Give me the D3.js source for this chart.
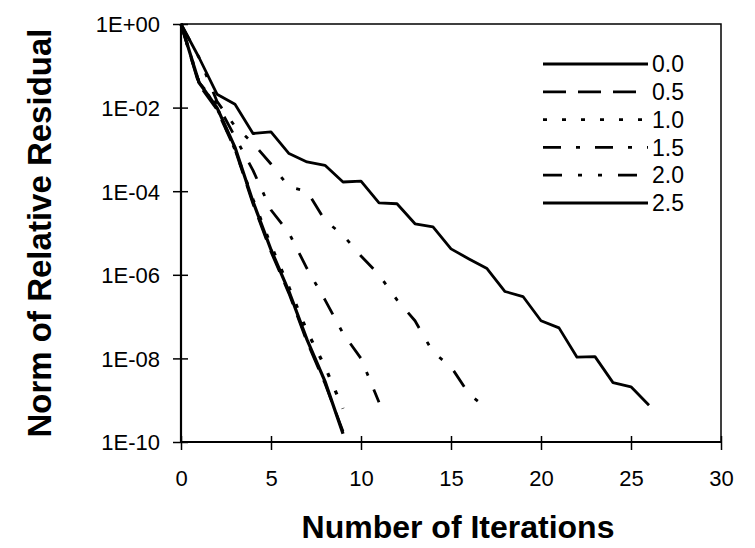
<!DOCTYPE html>
<html>
<head>
<meta charset="utf-8">
<script src="https://cdn.jsdelivr.net/npm/d3@7"></script>
<style>
  body { margin: 0; background: #fff; }
  svg { display: block; font-family: 'Liberation Sans', Arial, sans-serif; }
</style>
</head>
<body>
<svg id="chart" width="755" height="548"></svg>
<script>
// iterations and residual norms
const seriesNames = ['0.0', '0.5', '1.0', '1.5', '2.0', '2.5'];

const res00 = [1, 1.58e-1, 2.09e-2, 1.20e-2, 2.40e-3, 2.63e-3, 7.94e-4, 5.01e-4, 4.17e-4, 1.66e-4,
    1.74e-4, 5.25e-5, 5.01e-5, 1.66e-5, 1.41e-5, 4.17e-6, 2.40e-6, 1.41e-6, 3.98e-7, 3.02e-7,
    7.94e-8, 5.37e-8, 1.07e-8, 1.10e-8, 2.63e-9, 2.09e-9, 7.59e-10];
const res05 = [1, 3.55e-2, 8.91e-3, 1.0e-3, 5.01e-5, 3.55e-6, 3.55e-7, 2.51e-8, 2.51e-9, 1.78e-10];
const res10 = [1, 3.98e-2, 1.0e-2, 1.0e-3, 6.31e-5, 5.01e-6, 5.01e-7, 4.47e-8, 6.31e-9, 6.31e-10];
const res15 = [1, 3.98e-2, 1.26e-2, 2.0e-3, 3.16e-4, 3.55e-5, 1.0e-5, 1.41e-6, 2.51e-7, 3.98e-8,
    1.0e-8, 8.91e-10];
const res20 = [1, 1.58e-1, 1.41e-2, 3.55e-3, 1.41e-3, 4.47e-4, 1.26e-4, 1.0e-4, 2.0e-5, 8.91e-6,
    2.82e-6, 1.0e-6, 2.51e-7, 7.94e-8, 1.41e-8, 6.31e-9, 1.41e-9, 6.31e-10];
const res25 = [1, 3.98e-2, 1.0e-2, 1.12e-3, 5.62e-5, 3.98e-6, 3.98e-7, 2.82e-8, 2.82e-9, 1.58e-10];

const xTicks = [0, 5, 10, 15, 20, 25, 30];
const yTicks = [1, 1e-2, 1e-4, 1e-6, 1e-8, 1e-10];

const svg = d3.select('#chart');
const margin = { top: 24, right: 34, bottom: 106, left: 181 };
const width = +svg.attr('width');
const height = +svg.attr('height');

const x = d3.scaleLinear()
    .domain([0, 30])
    .range([margin.left, width - margin.right]);

const y = d3.scaleLog()
    .domain([1e-10, 1])
    .range([height - margin.bottom, margin.top]);

const fmt = v => {
    const e = Math.round(Math.log10(v));
    return '1E' + (e < 0 ? '-' : '+') + String(Math.abs(e)).padStart(2, '0');
};

const styles = {
    '0.0': { dash: null, w: 2.8 },
    '0.5': { dash: '23,12', w: 2.8 },
    '1.0': { dash: '4,15', w: 3.2 },
    '1.5': { dash: '18,15,4,15', w: 2.8 },
    '2.0': { dash: '19,16,4,16,4,16', w: 2.8 },
    '2.5': { dash: null, w: 3.2 }
};

const series = [res00, res05, res10, res15, res20, res25].map((vals, i) => ({
    name: seriesNames[i],
    points: vals.map((v, k) => [k, v])
}));

// axes
const yAxis = svg.append('g')
    .attr('transform', `translate(${margin.left},0)`)
    .call(d3.axisLeft(y).tickValues(yTicks).tickFormat(fmt).tickSize(8).tickPadding(13));
yAxis.selectAll('.tick line').attr('x1', 7).attr('stroke-width', 1.5);
yAxis.select('.domain').remove();
yAxis.selectAll('text')
    .attr('font-size', 22)
    .attr('font-family', 'Liberation Sans, Arial, sans-serif')
    .attr('dy', '0.36em');

const xAxis = svg.append('g')
    .attr('transform', `translate(0,${height - margin.bottom})`)
    .call(d3.axisBottom(x).tickValues(xTicks).tickSize(8).tickPadding(20));
xAxis.selectAll('.tick line').attr('y1', -6).attr('stroke-width', 1.5);
xAxis.select('.domain').remove();
xAxis.selectAll('text')
    .attr('font-size', 22)
    .attr('font-family', 'Liberation Sans, Arial, sans-serif');

// frame
svg.append('rect')
    .attr('x', x(0))
    .attr('y', y(1))
    .attr('width', x(30) - x(0))
    .attr('height', y(1e-10) - y(1))
    .attr('fill', 'none')
    .attr('stroke', '#000')
    .attr('stroke-width', 1.5);
svg.append('path')
    .attr('d', `M${x(0)},${y(1)}V${y(1e-10)}H${x(30)}`)
    .attr('fill', 'none')
    .attr('stroke', '#000')
    .attr('stroke-width', 2.2);

const line = d3.line()
    .x(d => x(d[0]))
    .y(d => y(d[1]));

svg.append('g')
    .selectAll('path')
    .data(series)
    .enter().append('path')
    .attr('d', d => line(d.points))
    .attr('fill', 'none')
    .attr('stroke', '#000')
    .attr('stroke-width', d => styles[d.name].w)
    .attr('stroke-dasharray', d => styles[d.name].dash)
    .attr('stroke-linejoin', 'round');

// legend
const legend = svg.append('g')
    .attr('transform', 'translate(543,64)');

const rows = legend.selectAll('g')
    .data(seriesNames)
    .enter().append('g')
    .attr('transform', (d, i) => `translate(0,${i * 27.8})`);

rows.append('line')
    .attr('x1', 0)
    .attr('x2', 105)
    .attr('stroke', '#000')
    .attr('stroke-width', 2.8)
    .attr('stroke-dasharray', d => styles[d].dash);

rows.append('text')
    .attr('x', 109)
    .attr('dy', '0.36em')
    .attr('font-size', 23)
    .text(d => d);

// titles
svg.append('text')
    .attr('x', 458)
    .attr('y', 538)
    .attr('text-anchor', 'middle')
    .attr('font-size', 32)
    .attr('font-weight', 'bold')
    .text('Number of Iterations');

svg.append('text')
    .attr('transform', `translate(51,${(y(1) + y(1e-10)) / 2}) rotate(-90)`)
    .attr('text-anchor', 'middle')
    .attr('font-size', 33)
    .attr('font-weight', 'bold')
    .text('Norm of Relative Residual');
</script>
</body>
</html>
